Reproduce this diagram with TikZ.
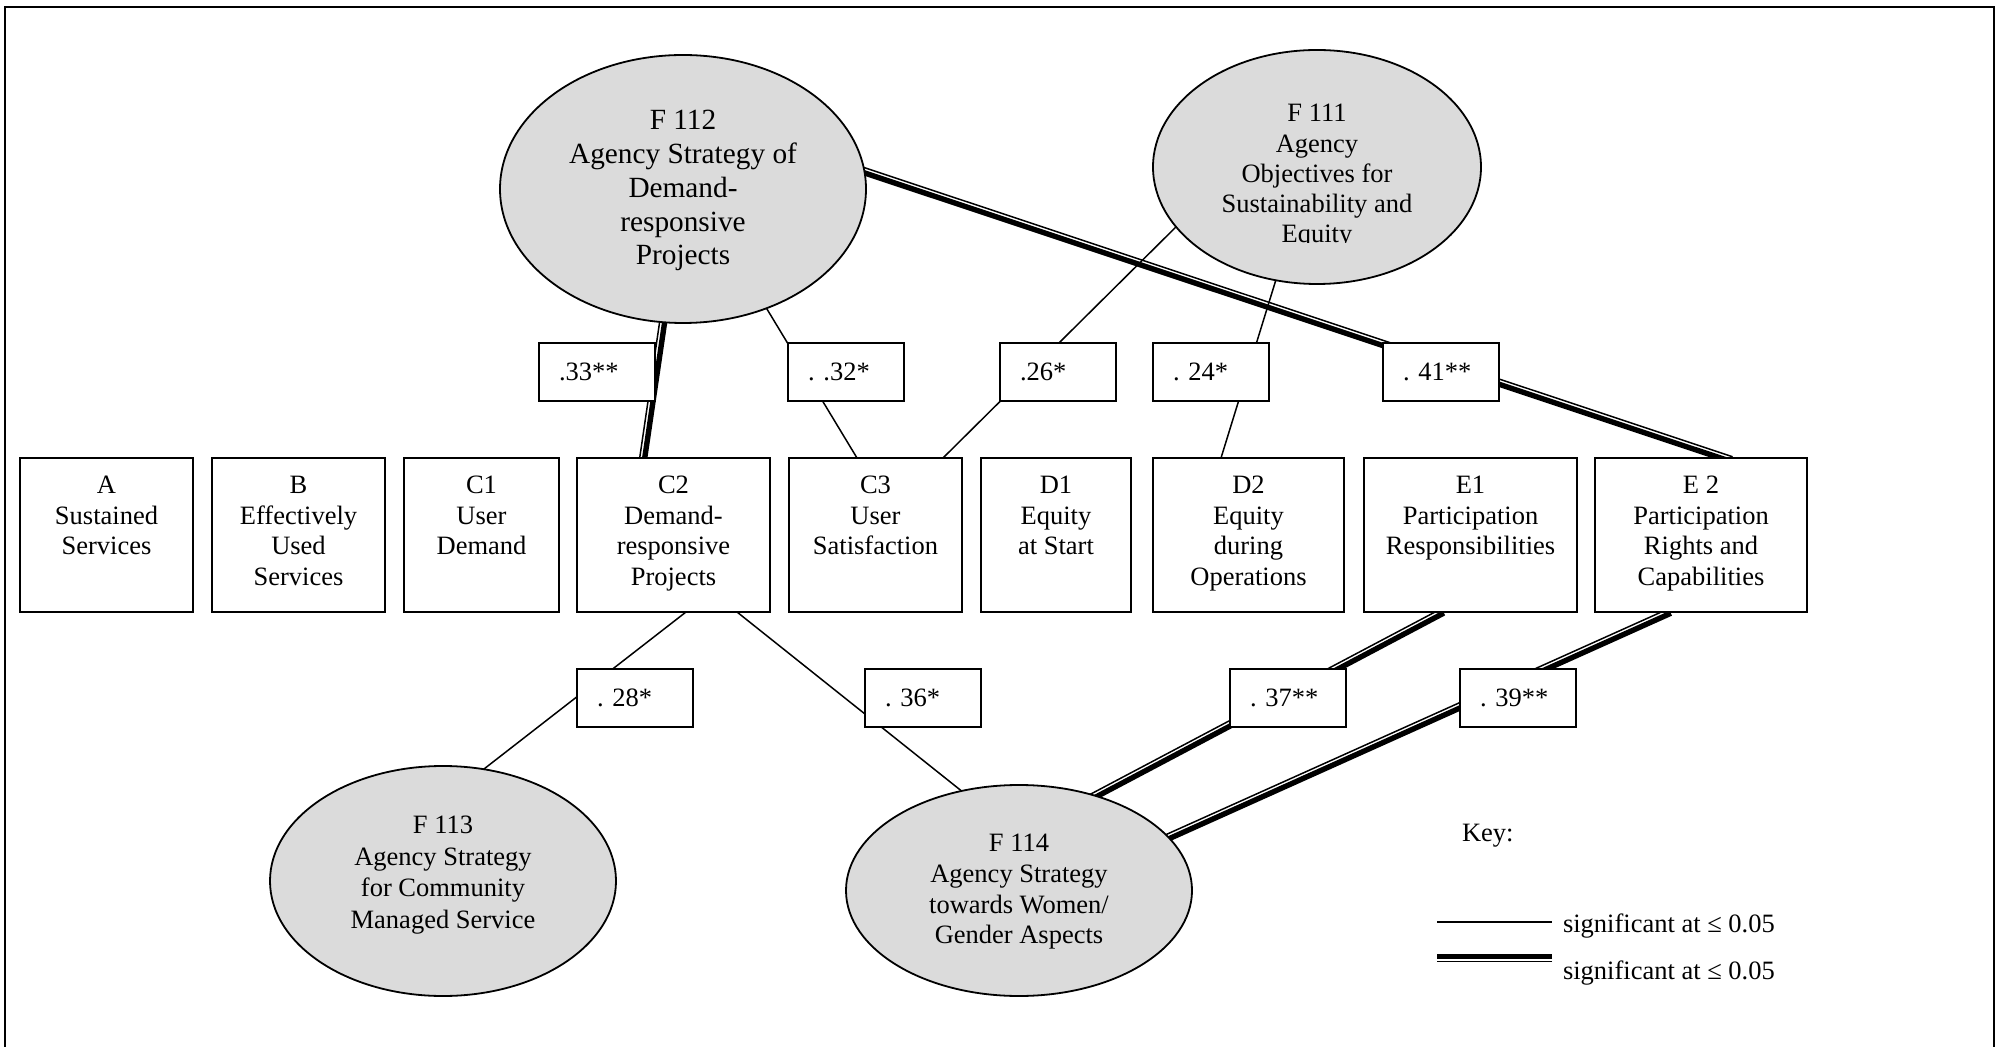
\documentclass[tikz,border=0pt]{standalone}
\usepackage{fontspec}
\setmainfont{Liberation Serif}
\usetikzlibrary{calc,shapes.geometric}
\pgfdeclarelayer{background}
\pgfsetlayers{background,main}

% strong correlation: thick black line on the right of the path, thin one on its left
\newcommand\sigpair[3][]{%
  \draw[line width=2.7pt,#1] ($(#2)!1.35pt!-90:(#3)$) -- ($(#3)!1.35pt!90:(#2)$);
  \draw[line width=0.75pt,#1] ($(#2)!1.15pt!90:(#3)$) -- ($(#3)!1.15pt!-90:(#2)$);
}

\begin{document}
\frenchspacing
\begin{tikzpicture}[x=0.5pt, y=-0.5pt,
  every node/.style={outer sep=0pt},
  boxnode/.style={draw, line width=1pt, fill=white, minimum height=77pt, inner sep=0pt},
  boxtext/.style={align=center, inner sep=0pt, anchor=north,
                  font=\fontsize{13.25pt}{15.35pt}\selectfont},
  facell/.style={draw, ellipse, line width=0.9pt, fill=black!14, inner sep=0pt},
  facttext/.style={align=center, inner sep=0pt},
  coefbox/.style={draw, line width=1pt, fill=white, minimum height=29pt,
                  text width=38pt, inner xsep=10pt, inner ysep=0pt, align=left,
                  font=\fontsize{13.25pt}{15pt}\selectfont},
  corrline/.style={line width=0.75pt},
  ext/.style={shorten <=-1.5pt, shorten >=-1.5pt},
  outerframe/.style={line width=1.4pt},
  keytext/.style={anchor=base west, inner sep=0pt,
                  font=\fontsize{13.25pt}{15pt}\selectfont}
]
\useasboundingbox (0,0) rectangle (2002,1047);
\draw[outerframe] (5,1047) -- (5,7) -- (1994,7) -- (1994,1047);

% outcome boxes
\node[boxnode, minimum width=86.5pt]  (A)  at (106.5,535) {};
\node[boxnode, minimum width=86.5pt]  (B)  at (298.5,535) {};
\node[boxnode, minimum width=77.5pt]  (C1) at (481.5,535) {};
\node[boxnode, minimum width=96.5pt]  (C2) at (673.5,535) {};
\node[boxnode, minimum width=86.5pt]  (C3) at (875.5,535) {};
\node[boxnode, minimum width=75pt]    (D1) at (1056,535) {};
\node[boxnode, minimum width=95.5pt]  (D2) at (1248.5,535) {};
\node[boxnode, minimum width=106.5pt] (E1) at (1470.5,535) {};
\node[boxnode, minimum width=106pt]   (E2) at (1701,535) {};

\node[boxtext] (At)  at ([yshift=-9pt]A.north)  {A\\Sustained\\Services};
\node[boxtext] (Bt)  at ([yshift=-9pt]B.north)  {B\\Effectively\\Used\\Services};
\node[boxtext] (C1t) at ([yshift=-9pt]C1.north) {C1\\User\\Demand};
\node[boxtext] (C2t) at ([yshift=-9pt]C2.north) {C2\\Demand-\\responsive\\Projects};
\node[boxtext] (C3t) at ([yshift=-9pt]C3.north) {C3\\User\\Satisfaction};
\node[boxtext] (D1t) at ([yshift=-9pt]D1.north) {D1\\Equity\\at Start};
\node[boxtext] (D2t) at ([yshift=-9pt]D2.north) {D2\\Equity\\during\\Operations};
\node[boxtext] (E1t) at ([yshift=-9pt]E1.north) {E1\\Participation\\Responsibilities};
\node[boxtext] (E2t) at ([yshift=-9pt]E2.north) {E 2\\Participation\\Rights and\\Capabilities};

% agency factors
\node[facell, minimum width=183pt, minimum height=134pt]   (F112) at (683,189) {};
\node[facell, minimum width=164pt, minimum height=117pt]   (F111) at (1317,167) {};
\node[facell, minimum width=173pt, minimum height=115pt]   (F113) at (443,881) {};
\node[facell, minimum width=173pt, minimum height=105.5pt] (F114) at (1019,890.5) {};

\node[facttext, font=\fontsize{14.65pt}{16.9pt}\selectfont] (F112t) at (683,190.7)
  {F 112\\Agency Strategy of\\Demand-\\responsive\\Projects};
\begin{scope}
  \clip (1150,45) rectangle (1485,243);
  \node[facttext, font=\fontsize{13.25pt}{15.1pt}\selectfont] (F111t) at (1317,176.4)
    {F 111\\Agency\\Objectives for\\Sustainability and\\Equity};
\end{scope}
\node[facttext, font=\fontsize{13.25pt}{15.85pt}\selectfont] (F113t) at (443,875)
  {F 113\\Agency Strategy\\for Community\\Managed Service};
\node[facttext, font=\fontsize{13.25pt}{15.35pt}\selectfont] (F114t) at (1019,892)
  {F 114\\Agency Strategy\\towards Women/\\Gender Aspects};

% attachment points on the boxes
\coordinate (c2top) at ([xshift=32.5pt]C2.north west);
\coordinate (e2top) at ([xshift=67pt]E2.north west);
\coordinate (e1bot) at ([xshift=38pt]E1.south west);
\coordinate (e2bot) at ([xshift=36pt]E2.south west);

% correlations
\begin{pgfonlayer}{background}
  \sigpair[ext]{c2top}{F112.-99.3}
  \sigpair[ext]{F112.6.6}{e2top}
  \sigpair[ext]{F114.52.5}{e1bot}
  \sigpair[ext]{F114.20.6}{e2bot}
  \draw[corrline, ext] (F112.-55.6)  -- ([xshift=34pt]C3.north west);
  \draw[corrline, ext] (F111.-157.4) -- ([xshift=77pt]C3.north west);
  \draw[corrline, ext] (F111.-110.9) -- ([xshift=34pt]D2.north west);
  \draw[corrline, ext] ([xshift=54.5pt]C2.south west) -- (F113.70.8);
  \draw[corrline, ext] ([xshift=80pt]C2.south west)   -- (F114.120.8);
\end{pgfonlayer}

% coefficients
\node[coefbox] (r33) at (597,372)  {.33**};
\node[coefbox] (r32) at (846,372)  {. .32*};
\node[coefbox] (r26) at (1058,372) {.26*};
\node[coefbox] (r24) at (1211,372) {. 24*};
\node[coefbox] (r41) at (1441,372) {. 41**};
\node[coefbox] (r28) at (635,698)  {. 28*};
\node[coefbox] (r36) at (923,698)  {. 36*};
\node[coefbox] (r37) at (1288,698) {. 37**};
\node[coefbox] (r39) at (1518,698) {. 39**};

% key
\node[keytext] (keyhead) at (1462,841) {Key:};
\coordinate (ks1) at (1437,922);
\coordinate (ks2) at (1552,922);
\draw[corrline] (ks1) -- (ks2);
\coordinate (kd1) at (1552,959);
\coordinate (kd2) at (1437,959);
\sigpair{kd1}{kd2}
\node[keytext] (ksig1) at (1563,932) {significant at ≤ 0.05};
\node[keytext] (ksig2) at (1563,979) {significant at ≤ 0.05};
\end{tikzpicture}
\end{document}
